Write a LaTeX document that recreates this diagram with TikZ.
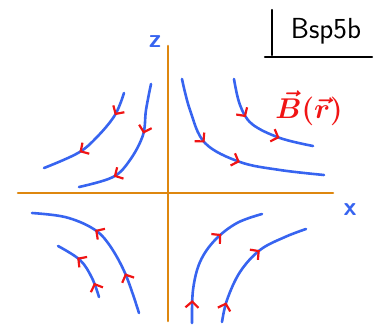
\RequirePackage{fix-cm}
\documentclass[tikz,border=0pt]{standalone}
\usepackage{amsmath,amssymb}
\usepackage{xcolor}
\usepackage{tikz}
\usetikzlibrary{arrows.meta,decorations.markings}
\definecolor{fieldblue}{RGB}{55,100,240}
\definecolor{axisorange}{RGB}{222,135,15}
\definecolor{arrowred}{RGB}{240,20,20}

\begin{document}
\begin{tikzpicture}[x=1pt, y=-1pt,
  axis/.style={axisorange, line width=2.6pt, line cap=round},
  field/.style={fieldblue, line width=2.6pt, line cap=round},
  flow/.style 2 args={postaction={decorate, decoration={markings,
    mark=at position #1 with {\arrow[arrowred, line width=2.2pt]{Straight Barb[length=6pt, width=13pt]}},
    mark=at position #2 with {\arrow[arrowred, line width=2.2pt]{Straight Barb[length=6pt, width=13pt]}}}}},
  label/.style={font=\sffamily\bfseries\fontsize{26}{26}\selectfont, text=fieldblue}
]
\useasboundingbox (0,0) rectangle (378,327);

% Axes
\draw[axis] (18,193) -- (333,193);
\draw[axis] (168,46) -- (168,321);
\node[label] (zlab) at (155,42) {z};
\node[label] (xlab) at (350,210) {x};

% Title box
\node[font=\sffamily\fontsize{29}{29}\selectfont] (title) at (326,31) {Bsp5b};
\draw[line width=2.4pt, line cap=round] (272,10) -- (272,55);
\draw[line width=2.4pt, line cap=round] (265,57) -- (372,57);

% Field label
\node[scale=1.3, font=\boldmath\fontsize{22}{22}\selectfont, text=arrowred] (Blab) at (309,108) {$\vec{B}(\vec{r})$};

% Field lines, upper left
\draw[field, flow={0.21}{0.66}] plot[smooth, tension=0.6] coordinates
  {(124,93) (115,115) (97,137) (78,153) (44,168)};
\draw[field, flow={0.36}{0.74}] plot[smooth, tension=0.6] coordinates
  {(151,84) (146,110) (143,135) (130,160) (113,177) (79,187)};

% Field lines, upper right
\draw[field, flow={0.35}{0.56}] plot[smooth, tension=0.6] coordinates
  {(182,79) (190,110) (205,143) (240,162) (280,170) (324,175)};
\draw[field, flow={0.35}{0.70}] plot[smooth, tension=0.6] coordinates
  {(234,79) (240,105) (252,124) (280,138) (313,146)};

% Field lines, lower left
\draw[field, flow={0.26}{0.59}] plot[smooth, tension=0.6] coordinates
  {(139,313) (125,273) (108,243) (92,228) (65,217) (32,213)};
\draw[field, flow={0.22}{0.67}] plot[smooth, tension=0.6] coordinates
  {(99,297) (92,278) (80,260) (58,246)};

% Field lines, lower right
\draw[field, flow={0.16}{0.68}] plot[smooth, tension=0.6] coordinates
  {(192,323) (193,290) (200,262) (215,240) (237,223) (262,214)};
\draw[field, flow={0.15}{0.62}] plot[smooth, tension=0.6] coordinates
  {(222,322) (227,300) (240,272) (260,250) (285,237) (306,229)};

\end{tikzpicture}
\end{document}
